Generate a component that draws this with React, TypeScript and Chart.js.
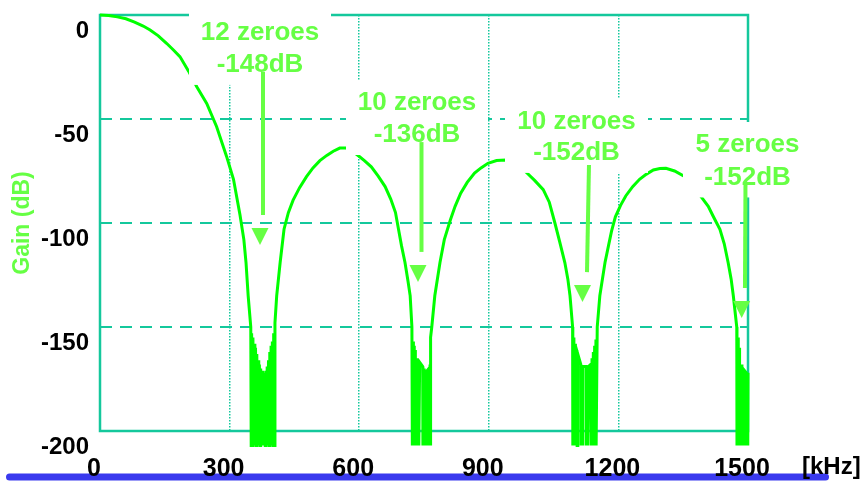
import React, { useEffect, useRef } from "react";
import { Chart, registerables } from "chart.js";

Chart.register(...registerables);

// ---------- data ----------
const X_TICKS = [0, 300, 600, 900, 1200, 1500];
const Y_TICKS = [-200, -150, -100, -50, 0];
const X_UNIT = "[kHz]";
const Y_TITLE = "Gain (dB)";

// [kHz, dB]
const lobe1: number[][] = [
  [0, 0], [20, -0.2], [40, -0.9], [60, -1.8], [80, -3.4], [100, -5.3], [116, -7.2],
  [135, -10], [154, -13.6], [170, -16.8], [185, -20], [205, -27], [224, -34.5],
  [247, -42.5], [270, -53.7], [293, -68], [309, -79], [324, -96], [333, -108],
  [338, -119], [343, -135], [349, -150],
];
const notch1: number[][] = [
  [350, -207], [351, -153], [352.5, -207], [354, -155], [355.5, -207], [357, -158],
  [358.5, -207], [360, -160], [361.5, -207], [363, -163], [364.5, -207], [366, -166],
  [367.5, -207], [369, -168], [370.5, -207], [372, -170], [373.5, -207], [375, -171],
  [376.5, -207], [378, -172], [379.5, -207], [381, -172], [382.5, -207], [384, -171],
  [385.5, -207], [387, -169], [388.5, -207], [390, -166], [391.5, -207], [393, -162],
  [394.5, -207], [396, -159], [397.5, -207], [399, -157], [400.5, -207], [402, -153],
  [403.5, -207], [405, -148],
];
const lobe2: number[][] = [
  [409, -135], [417, -119], [426, -103], [436, -95], [447, -89], [462, -83],
  [478, -77.7], [493, -73.5], [509, -70], [525, -67.5], [540, -65.5], [555, -64],
  [570, -64], [583, -65.3], [596, -67.3], [612, -70], [628, -73], [644, -77.5],
  [660, -82.5], [673, -88.5], [684, -95], [691, -103], [698, -111], [706, -119],
  [713, -128], [718, -135], [722, -150],
];
const notch2: number[][] = [
  [723, -207], [725, -157], [725.5, -207], [727, -159], [727.5, -207], [729.5, -161],
  [730, -207], [734, -165], [734.5, -207], [737.5, -167], [738, -207], [740, -167],
  [747, -169], [747.5, -207], [750, -170], [750.5, -207], [754, -171], [754.5, -207],
  [757, -171], [761, -170], [761.5, -207], [764, -168], [764.5, -207], [766, -155],
  [768, -150],
];
const lobe3: number[][] = [
  [775, -135], [787, -119], [797, -108], [811, -98.6], [822, -92], [835, -85.7],
  [850, -80.5], [867, -76], [882, -73.5], [898, -71.3], [918, -70], [939, -69.7],
  [960, -71], [975, -73.3], [986, -75.5], [1006, -79.5], [1026, -84], [1040, -90],
  [1053, -100], [1064, -109], [1076, -119], [1083, -127], [1088, -135], [1094, -150],
];
const notch3: number[][] = [
  [1094.5, -207], [1097, -155], [1097.5, -207], [1100, -158], [1100.5, -207],
  [1104, -161], [1104.5, -207], [1106, -163], [1113, -168], [1113.5, -207],
  [1116, -169], [1116.5, -207], [1118, -169], [1125, -169], [1125.5, -207],
  [1128, -169], [1128.5, -207], [1131, -169], [1136, -168], [1136.5, -207],
  [1139, -165], [1139.5, -207], [1142, -162], [1142.5, -207], [1145, -159],
  [1145.5, -207], [1148, -156], [1148.5, -207], [1151, -150],
];
const lobe4: number[][] = [
  [1157, -135], [1169, -119], [1177, -111], [1184, -104], [1193, -97], [1205, -91.5],
  [1217, -87], [1233, -82.5], [1249, -79], [1265, -76.5], [1281, -74.5], [1296, -73.8],
  [1310, -73.7], [1330, -75], [1352, -77.5], [1372, -82], [1393, -87.8], [1408, -92],
  [1420, -97], [1435, -103], [1445, -110], [1454, -119], [1461, -127], [1466, -135],
  [1474, -150],
];
const notch4: number[][] = [
  [1474.5, -207], [1477, -155], [1477.5, -207], [1480, -160], [1480.5, -207],
  [1486, -168], [1486.5, -207], [1489, -170], [1489.5, -207], [1492, -171],
  [1496, -172], [1496.5, -207], [1499, -172], [1499.5, -207], [1500, -172],
];

const NOTE_LINES = [
  ["12 zeroes", "-148dB"],
  ["10 zeroes", "-136dB"],
  ["10 zeroes", "-152dB"],
  ["5 zeroes", "-152dB"],
];

// ---------- styling / layout ----------
const TEAL = "#14c89c";
const CURVE = "#00ff00";
const NOTE_GREEN = "#66ff44";
const FONT = "'Liberation Sans', Arial, Helvetica, sans-serif";

// annotation placement in data units (kHz, dB)
const NOTES = [
  { lines: NOTE_LINES[0], x: 370.4, y1: -8.65, y2: -24.0, halfW: 71, arrow: [377.3, -27.4, 377.3, -96.2], tri: [370.4, -102.4, -110.6] },
  { lines: NOTE_LINES[1], x: 733.8, y1: -42.3, y2: -57.7, halfW: 71, arrow: [744.2, -61.1, 744.2, -113.9], tri: [736.1, -120.2, -128.4] },
  { lines: NOTE_LINES[2], x: 1103, y1: -51.3, y2: -66.3, halfW: 71.5, arrow: [1131.9, -72.1, 1127.3, -123.6], tri: [1116.9, -129.8, -138.0] },
  { lines: NOTE_LINES[3], x: 1498.8, y1: -62.5, y2: -78.1, halfW: 64.5, arrow: [1494.2, -80.3, 1493, -131.3], tri: [1485.4, -137.5, -145.7] },
];

const decorPlugin = {
  id: "decor",
  beforeDraw(chart: any) {
    const ctx = chart.ctx;
    ctx.save();
    ctx.fillStyle = "#3a3aee";
    ctx.beginPath();
    if (ctx.roundRect) ctx.roundRect(6, 473.5, 823, 7, 3.5);
    else ctx.rect(6, 473.5, 823, 7);
    ctx.fill();
    ctx.restore();
  },
  beforeDatasetsDraw(chart: any) {
    const { ctx, chartArea } = chart;
    ctx.save();
    ctx.strokeStyle = TEAL;
    ctx.lineWidth = 2.5;
    ctx.strokeRect(chartArea.left, chartArea.top, chartArea.right - chartArea.left, chartArea.bottom - chartArea.top);
    ctx.restore();
  },
  afterDatasetsDraw(chart: any) {
    const { ctx } = chart;
    const xs = chart.scales.x;
    const ys = chart.scales.y;
    ctx.save();
    for (const n of NOTES) {
      const cx = xs.getPixelForValue(n.x);
      const t = ys.getPixelForValue(n.y1) - 23;
      const b = ys.getPixelForValue(n.y2) + 20;
      ctx.fillStyle = "#ffffff";
      ctx.fillRect(cx - n.halfW, t, n.halfW * 2, b - t);
    }
    for (const n of NOTES) {
      const cx = xs.getPixelForValue(n.x);
      ctx.fillStyle = NOTE_GREEN;
      ctx.font = `bold 26px ${FONT}`;
      ctx.textAlign = "center";
      ctx.textBaseline = "middle";
      ctx.fillText(n.lines[0], cx, ys.getPixelForValue(n.y1));
      ctx.fillText(n.lines[1], cx, ys.getPixelForValue(n.y2));
      ctx.strokeStyle = NOTE_GREEN;
      ctx.lineWidth = 4;
      ctx.beginPath();
      ctx.moveTo(xs.getPixelForValue(n.arrow[0]), ys.getPixelForValue(n.arrow[1]));
      ctx.lineTo(xs.getPixelForValue(n.arrow[2]), ys.getPixelForValue(n.arrow[3]));
      ctx.stroke();
      const tx = xs.getPixelForValue(n.tri[0]);
      const tt = ys.getPixelForValue(n.tri[1]);
      const tb = ys.getPixelForValue(n.tri[2]);
      ctx.beginPath();
      ctx.moveTo(tx - 8.5, tt);
      ctx.lineTo(tx + 8.5, tt);
      ctx.lineTo(tx, tb);
      ctx.closePath();
      ctx.fill();
    }
    ctx.restore();
  },
  afterDraw(chart: any) {
    const ctx = chart.ctx;
    ctx.save();
    ctx.fillStyle = "#000";
    ctx.font = `bold 24px ${FONT}`;
    ctx.textAlign = "left";
    ctx.textBaseline = "middle";
    ctx.fillText(X_UNIT, 802, 467);
    ctx.restore();
  },
};

export default function App() {
  const ref = useRef<HTMLCanvasElement | null>(null);

  useEffect(() => {
    if (!ref.current) return;
    const points = [...lobe1, ...notch1, ...lobe2, ...notch2, ...lobe3, ...notch3, ...lobe4, ...notch4].map(
      ([x, y]) => ({ x, y })
    );
    const chart = new Chart(ref.current, {
      type: "scatter",
      data: {
        datasets: [
          {
            data: points,
            showLine: true,
            borderColor: CURVE,
            borderWidth: 3,
            pointRadius: 0,
            tension: 0,
            clip: false as any,
          } as any,
        ],
      },
      options: {
        responsive: false,
        animation: false,
        devicePixelRatio: 1,
        layout: { padding: { top: 15, right: 119, left: 0, bottom: 0 } },
        plugins: { legend: { display: false }, tooltip: { enabled: false } },
        scales: {
          x: {
            type: "linear",
            min: 0,
            max: 1500,
            afterBuildTicks: (s: any) => {
              s.ticks = X_TICKS.map((v) => ({ value: v }));
            },
            afterFit: (s: any) => {
              s.height = 50;
              s.paddingLeft = 0;
              s.paddingRight = 0;
            },
            ticks: {
              color: "#000",
              font: { family: FONT, size: 25, weight: "bold" },
              padding: 23,
              labelOffset: -6,
              maxRotation: 0,
              autoSkip: false,
              callback: (v: any) => String(v),
            },
            grid: {
              drawTicks: false,
              lineWidth: 1.5,
              color: (c: any) =>
                c.tick && (c.tick.value === 0 || c.tick.value === 1500) ? "rgba(0,0,0,0)" : TEAL,
            },
            border: { display: false, dash: [1.5, 1.5] },
          },
          y: {
            type: "linear",
            min: -200,
            max: 0,
            afterBuildTicks: (s: any) => {
              s.ticks = Y_TICKS.map((v) => ({ value: v }));
            },
            afterFit: (s: any) => {
              s.width = 100;
              s.paddingTop = 0;
              s.paddingBottom = 0;
            },
            ticks: {
              color: "#000",
              font: { family: FONT, size: 24, weight: "bold" },
              padding: 11,
              labelOffset: 16,
              autoSkip: false,
              callback: (v: any) => String(v),
            },
            grid: {
              drawTicks: false,
              lineWidth: 2,
              color: (c: any) =>
                c.tick && (c.tick.value === 0 || c.tick.value === -200) ? "rgba(0,0,0,0)" : TEAL,
            },
            border: { display: false, dash: [12, 8] },
            title: {
              display: true,
              text: Y_TITLE,
              color: NOTE_GREEN,
              font: { family: FONT, size: 23, weight: "bold" },
              padding: { top: 9, bottom: 0 },
            },
          },
        },
      },
      plugins: [decorPlugin],
    });
    return () => chart.destroy();
  }, []);

  return (
    <div style={{ position: "absolute", left: 0, top: 0, width: 867, height: 481, background: "#fff" }}>
      <canvas ref={ref} width={867} height={481} style={{ width: 867, height: 481, display: "block" }} />
    </div>
  );
}
